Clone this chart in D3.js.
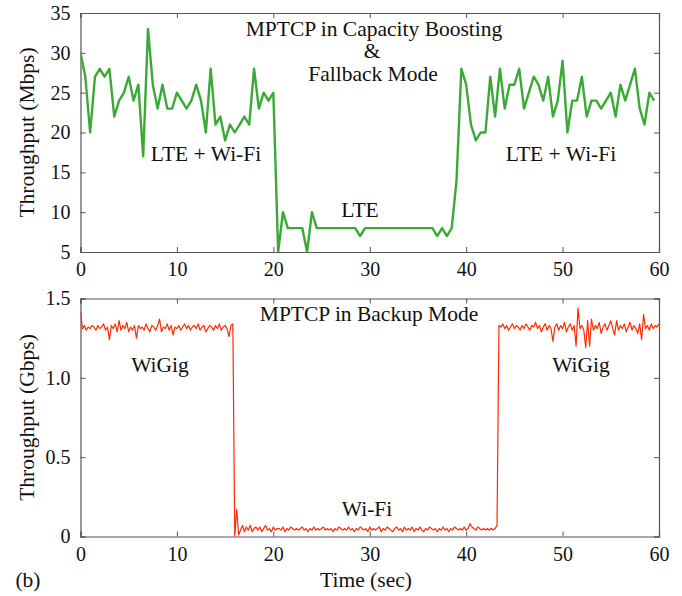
<!DOCTYPE html>
<html>
<head>
<meta charset="utf-8">
<script src="https://cdn.jsdelivr.net/npm/d3@7"></script>
<style>
  body { margin: 0; background: #fff; }
  svg text { font-family: "Liberation Serif", "DejaVu Serif", serif; fill: #111; }
</style>
</head>
<body>
<svg id="chart" width="682" height="596"></svg>
<script>
// top panel: LTE / Wi-Fi aggregate, one sample every 0.5 s (Mbps)
const boostStep = 0.5;
const boostValues = [
  30, 27, 20, 27, 28, 27, 28, 22, 24, 25, 27, 24, 26, 17, 33, 26, 23, 26, 23, 23,
  25, 24, 23, 24, 26, 24, 20, 28, 21, 22, 19, 21, 20, 21, 22, 21, 28, 23, 25, 24,
  25, 5, 10, 8, 8, 8, 8, 5, 10, 8, 8, 8, 8, 8, 8, 8, 8, 8, 7, 8,
  8, 8, 8, 8, 8, 8, 8, 8, 8, 8, 8, 8, 8, 8, 7, 8, 7, 8, 14, 28,
  26, 21, 19, 20, 20, 27, 22, 28, 23, 26, 26, 28, 23, 25, 27, 26, 24, 27, 22, 24,
  29, 20, 24, 24, 27, 22, 24, 24, 23, 24, 25, 22, 26, 24, 26, 28, 23, 21, 25, 24
];
const boostYTicks = [5, 10, 15, 20, 25, 30, 35];

// bottom panel: WiGig / Wi-Fi backup, one sample every 0.2 s (Gbps)
const backupStep = 0.2;
const backupValues = [
  1.42,1.31,1.33,1.30,1.32,1.31,1.33,1.32,1.30,1.33,
  1.31,1.32,1.34,1.30,1.32,1.24,1.33,1.31,1.34,1.29,
  1.36,1.30,1.33,1.31,1.35,1.29,1.32,1.30,1.33,1.25,
  1.33,1.31,1.32,1.30,1.34,1.31,1.29,1.33,1.32,1.30,
  1.33,1.37,1.29,1.32,1.31,1.34,1.30,1.33,1.27,1.32,
  1.31,1.33,1.30,1.32,1.34,1.31,1.33,1.30,1.32,1.33,
  1.31,1.34,1.30,1.32,1.33,1.29,1.31,1.33,1.32,1.30,
  1.33,1.31,1.34,1.30,1.32,1.33,1.31,1.26,1.33,1.34,
  0.00,0.17,0.01,
  0.04,0.07,0.03,0.06,0.04,0.07,0.03,0.05,0.06,0.04,
  0.06,0.03,0.05,0.07,0.04,0.05,0.03,0.06,0.04,0.05,
  0.05,0.04,0.06,0.03,0.05,0.04,0.06,0.05,0.04,0.05,
  0.04,0.05,0.06,0.04,0.05,0.03,0.05,0.04,0.06,0.04,
  0.05,0.04,0.05,0.06,0.04,0.05,0.04,0.05,0.03,0.05,
  0.04,0.06,0.05,0.04,0.05,0.04,0.06,0.04,0.05,0.03,
  0.05,0.04,0.06,0.05,0.04,0.05,0.03,0.06,0.04,0.05,
  0.04,0.05,0.06,0.03,0.05,0.04,0.06,0.05,0.04,0.03,
  0.05,0.06,0.04,0.05,0.03,0.06,0.04,0.05,0.04,0.06,
  0.03,0.05,0.04,0.06,0.04,0.03,0.05,0.04,0.06,0.05,
  0.04,0.05,0.03,0.05,0.04,0.06,0.04,0.05,0.03,0.05,
  0.04,0.06,0.05,0.04,0.05,0.04,0.06,0.04,0.05,0.08,
  0.06,0.05,0.04,0.06,0.05,0.04,0.05,0.04,0.05,0.04,
  0.05,0.04,0.05,0.07,
  1.33,
  1.32,1.34,1.31,1.33,1.30,1.32,1.34,1.31,1.33,
  1.32,1.30,1.33,1.31,1.34,1.32,1.30,1.33,1.32,1.35,
  1.31,1.33,1.29,1.32,1.34,1.30,1.33,1.31,1.23,1.32,
  1.34,1.30,1.33,1.31,1.35,1.29,1.32,1.34,1.30,1.33,
  1.20,1.44,1.31,1.33,1.30,1.19,1.36,1.20,1.37,1.30,
  1.33,1.31,1.35,1.28,1.32,1.34,1.30,1.33,1.36,1.31,
  1.27,1.36,1.30,1.33,1.31,1.34,1.29,1.32,1.35,1.30,
  1.33,1.31,1.28,1.34,1.24,1.40,1.31,1.33,1.30,1.34,
  1.31,1.33,1.32,1.34
];
const backupYTicks = [0, 0.5, 1.0, 1.5];
const backupYLabels = ["0", "0.5", "1.0", "1.5"];

const timeTicks = [0, 10, 20, 30, 40, 50, 60];

const svg = d3.select('#chart');
const axisColor = '#555';
const tickFont = 20;
const textFont = 21.5;

const drawPanel = (opts) => {
  const { top, bottom, left, right, yDomain, yTicks, yLabels, values, step,
          color, width, yTitle, clipId } = opts;

  const x = d3.scaleLinear().domain([0, 60]).range([left, right]);
  const y = d3.scaleLinear().domain(yDomain).range([bottom, top]);

  const g = svg.append('g');

  g.append('clipPath').attr('id', clipId)
    .append('rect')
    .attr('x', left).attr('y', top)
    .attr('width', right - left).attr('height', bottom - top);

  // inward ticks on all four sides
  const axes = [
    [d3.axisBottom(x).tickValues(timeTicks).tickSize(-5).tickPadding(10), `translate(0,${bottom})`, true],
    [d3.axisTop(x).tickValues(timeTicks).tickSize(-5), `translate(0,${top})`, false],
    [d3.axisLeft(y).tickValues(yTicks).tickSize(-5).tickPadding(10)
      .tickFormat((d, i) => yLabels ? yLabels[i] : d), `translate(${left},0)`, true],
    [d3.axisRight(y).tickValues(yTicks).tickSize(-5), `translate(${right},0)`, false]
  ];
  axes.forEach(([axis, tr, labels]) => {
    const a = g.append('g').attr('transform', tr).call(axis);
    a.select('.domain').attr('stroke', axisColor).attr('stroke-width', 1.2);
    a.selectAll('.tick line').attr('stroke', axisColor).attr('stroke-width', 1);
    a.selectAll('.tick text')
      .style('font-family', '"Liberation Serif", serif')
      .style('font-size', tickFont + 'px')
      .attr('fill', '#111')
      .attr('display', labels ? null : 'none');
  });

  const line = d3.line()
    .x((d, i) => x(i * step))
    .y(d => y(d));

  g.append('path')
    .datum(values)
    .attr('clip-path', `url(#${clipId})`)
    .attr('fill', 'none')
    .attr('stroke', color)
    .attr('stroke-width', width)
    .attr('stroke-linejoin', 'round')
    .attr('d', line);

  g.append('text')
    .attr('transform', `translate(34,${(top + bottom) / 2}) rotate(-90)`)
    .attr('text-anchor', 'middle')
    .style('font-size', textFont + 'px')
    .text(yTitle);

  return { x, y, g };
}

const p1 = drawPanel({
  top: 13, bottom: 252, left: 80.5, right: 659,
  yDomain: [5, 35], yTicks: boostYTicks, values: boostValues, step: boostStep,
  color: '#3aaa35', width: 2.4, yTitle: 'Throughput (Mbps)', clipId: 'clipTop'
});

const p2 = drawPanel({
  top: 298.5, bottom: 536.5, left: 80.5, right: 659,
  yDomain: [0, 1.5], yTicks: backupYTicks, yLabels: backupYLabels,
  values: backupValues, step: backupStep,
  color: '#ff2a00', width: 1.2, yTitle: 'Throughput (Gbps)', clipId: 'clipBottom'
});

const label = (txt, px, py, anchor) => {
  svg.append('text')
    .attr('x', px).attr('y', py)
    .attr('text-anchor', anchor || 'middle')
    .style('font-size', textFont + 'px')
    .text(txt);
}

label('MPTCP in Capacity Boosting', 374, 36);
label('&', 372, 58);
label('Fallback Mode', 373, 81);
label('LTE + Wi-Fi', 206, 161);
label('LTE + Wi-Fi', 561, 161);
label('LTE', 360, 217);

label('MPTCP in Backup Mode', 369, 321);
label('WiGig', 160, 372);
label('WiGig', 581, 372);
label('Wi-Fi', 367, 516);

label('Time (sec)', 366, 587);
label('(b)', 28, 587);
</script>
</body>
</html>
